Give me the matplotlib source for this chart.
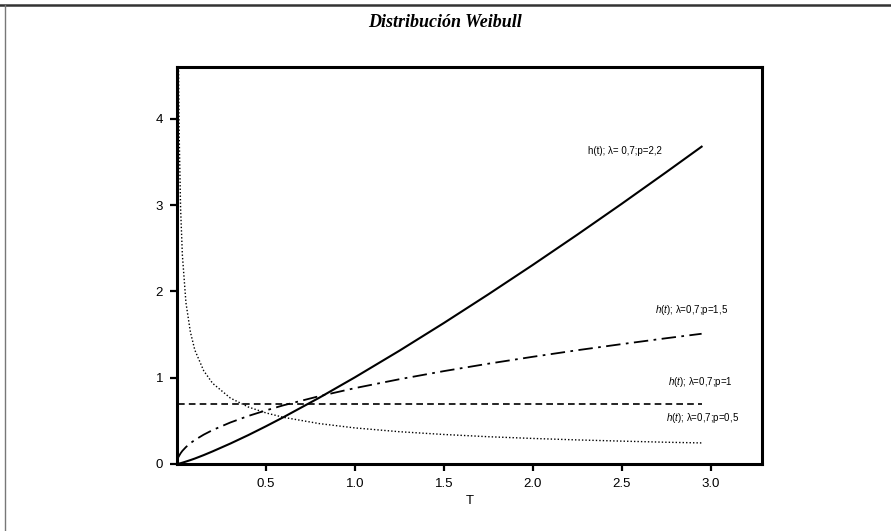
import matplotlib.pyplot as plt
from matplotlib.lines import Line2D

plt.rcParams["font.family"] = ["Liberation Sans", "DejaVu Sans"]
plt.rcParams["mathtext.fontset"] = "custom"
plt.rcParams["mathtext.rm"] = "Liberation Sans"
plt.rcParams["mathtext.it"] = "Liberation Sans:italic"

# --------------------------------------------------
# Datos
# --------------------------------------------------

t = [0.008, 0.012, 0.02, 0.03, 0.05, 0.075, 0.1, 0.15, 0.2, 0.3, 0.4, 0.5,
     0.6, 0.8, 1.0, 1.25, 1.5, 1.75, 2.0, 2.25, 2.5, 2.75, 2.95]

h_p22 = [0.003, 0.005, 0.009, 0.015, 0.028, 0.045, 0.063, 0.103, 0.146,
         0.237, 0.334, 0.437, 0.544, 0.768, 1.004, 1.312, 1.633, 1.965,
         2.306, 2.656, 3.014, 3.380, 3.677]
h_p15 = [0.079, 0.096, 0.124, 0.152, 0.196, 0.241, 0.278, 0.340, 0.393,
         0.481, 0.556, 0.621, 0.681, 0.786, 0.879, 0.982, 1.076, 1.162,
         1.242, 1.318, 1.389, 1.457, 1.509]
h_p1 = [0.7] * len(t)
h_p05 = [4.68, 3.82, 2.96, 2.42, 1.87, 1.53, 1.32, 1.08, 0.935, 0.764,
         0.661, 0.592, 0.540, 0.468, 0.418, 0.374, 0.342, 0.316, 0.296,
         0.279, 0.265, 0.252, 0.244]

x_ticks = [0.5, 1.0, 1.5, 2.0, 2.5, 3.0]
x_tick_labels = ["0.5", "1.0", "1.5", "2.0", "2.5", "3.0"]
y_ticks = [0, 1, 2, 3, 4]

labels = [
    "h(t); λ= 0,7;p=2,2",
    r"$\mathit{h(t)}$; λ=0,7;p=1,5",
    r"$\mathit{h(t)}$; λ=0,7;p=1",
    r"$\mathit{h(t)}$; λ=0,7;p=0,5",
]

# --------------------------------------------------
# Figura
# --------------------------------------------------

fig = plt.figure(figsize=(8.91, 5.31), dpi=100)
ax = fig.add_axes([0.1987, 0.1262, 0.6566, 0.7476])

# marco exterior: solo linea superior e izquierda
fig.lines.append(Line2D([0, 1], [0.9912, 0.9912], transform=fig.transFigure,
                        color="#333333", linewidth=1.8))
fig.lines.append(Line2D([0.0056, 0.0056], [0, 0.9912], transform=fig.transFigure,
                        color="#777777", linewidth=1.0))

ax.plot(t, h_p22, color="black", linewidth=1.5, linestyle="-")
ax.plot(t, h_p15, color="black", linewidth=1.3, linestyle=(0, (8, 3, 1.5, 3)))
ax.plot(t, h_p1, color="black", linewidth=1.2, linestyle=(0, (4, 2.5)))
ax.plot(t, h_p05, color="black", linewidth=1.0, linestyle=(0, (1, 1.5)))

ax.set_xlim(0, 3.29)
ax.set_ylim(0, 4.6)

ax.set_xticks(x_ticks)
ax.set_xticklabels(x_tick_labels)
ax.set_yticks(y_ticks)

for spine in ax.spines.values():
    spine.set_linewidth(2.2)

ax.tick_params(axis="both", direction="out", length=5, width=1.6,
               labelsize=9.5, pad=5)

ax.set_xlabel("T", fontsize=9.5, labelpad=4)

# --------------------------------------------------
# Etiquetas de las curvas
# --------------------------------------------------

ax.text(2.31, 3.63, labels[0], fontsize=7, va="center")
ax.text(2.69, 1.78, labels[1], fontsize=7, va="center")
ax.text(2.76, 0.95, labels[2], fontsize=7, va="center")
ax.text(2.75, 0.53, labels[3], fontsize=7, va="center")

# --------------------------------------------------
# Titulo
# --------------------------------------------------

fig.text(0.5, 0.958, "Distribución Weibull", ha="center", va="center",
         fontsize=13, fontweight="bold", fontstyle="italic",
         family="Liberation Serif")

plt.savefig("out.png", dpi=100)
